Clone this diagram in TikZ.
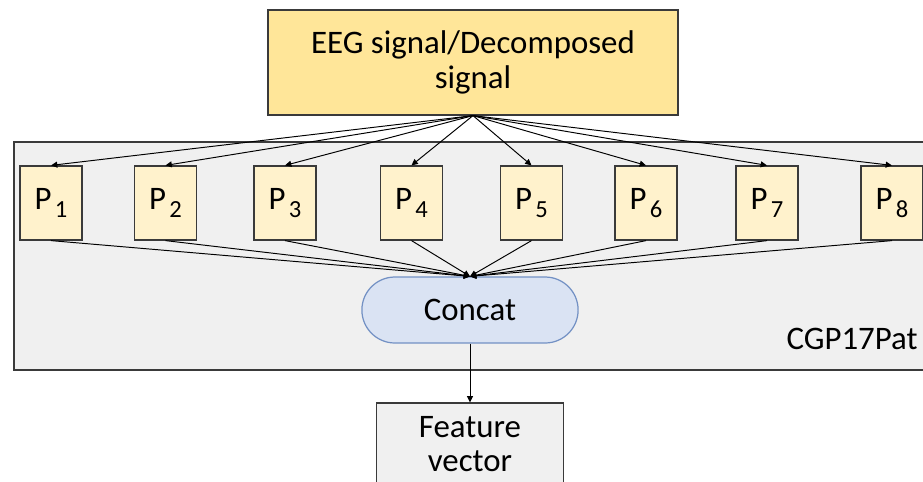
\documentclass[tikz,border=0pt]{standalone}
\usepackage{fontspec}
\setmainfont{Carlito}
\usetikzlibrary{positioning,arrows.meta,fit,shapes.misc}

\definecolor{srcfill}{HTML}{FFE699}
\definecolor{patfill}{HTML}{FFF2CC}
\definecolor{grpfill}{HTML}{F0F0F0}
\definecolor{catfill}{HTML}{DAE3F3}
\definecolor{catdraw}{HTML}{7391C4}
\definecolor{edge}{HTML}{3A3A3A}

\newcommand{\pat}[1]{P\kern0.1em\raisebox{-0.5ex}{\fontsize{14}{14}\selectfont #1}}

\begin{document}
\begin{tikzpicture}[
  x=0.02cm, y=-0.02cm,
  font=\fontsize{18.7}{19.8}\selectfont,
  >={Triangle[length=3.6pt,width=3.4pt]},
  box/.style={draw=edge, line width=0.7pt, align=center, inner sep=2pt},
  src/.style={box, fill=srcfill, minimum width=8.2cm, minimum height=2.1cm},
  patbox/.style={box, fill=patfill, minimum width=1.24cm, minimum height=1.48cm},
  concat/.style={rounded rectangle, draw=catdraw, line width=0.7pt, fill=catfill,
                 minimum width=4.56cm, minimum height=1.32cm},
  outbox/.style={box, fill=grpfill, minimum width=3.74cm, minimum height=1.64cm},
  frame/.style={draw=edge, line width=1.1pt, fill=grpfill, inner sep=0pt},
  flow/.style={->, line width=0.55pt, draw=black},
]
\clip (0,0) rectangle (923,481);

% ---- pattern group (background) ----
\node[frame, fit={(14,142) (940,370)}] (grp) {};
\node[anchor=center] (grplbl) at (852,339) {CGP17Pat};

% ---- input signal ----
\node[src] (sig) at (473,62.5) {EEG signal/Decomposed\\signal};

% ---- eight pattern blocks ----
\foreach \i/\x in {1/51, 2/165.5, 3/285, 4/411.5, 5/531.5, 6/646, 7/767, 8/892}
  \node[patbox] (p\i) at (\x,203) {\pat{\i}};

% ---- concatenation ----
\node[concat] (cat) at (470,310) {Concat};

% ---- output ----
\node[outbox] (feat) at (470,444) {Feature\\vector};

% ---- flows ----
\foreach \i in {1,...,8} {
  \draw[flow] (sig.south) -- (p\i.north);
  \draw[flow] (p\i.south) -- (cat.north);
}
\draw[flow] (cat.south) -- (feat.north);
\end{tikzpicture}
\end{document}
